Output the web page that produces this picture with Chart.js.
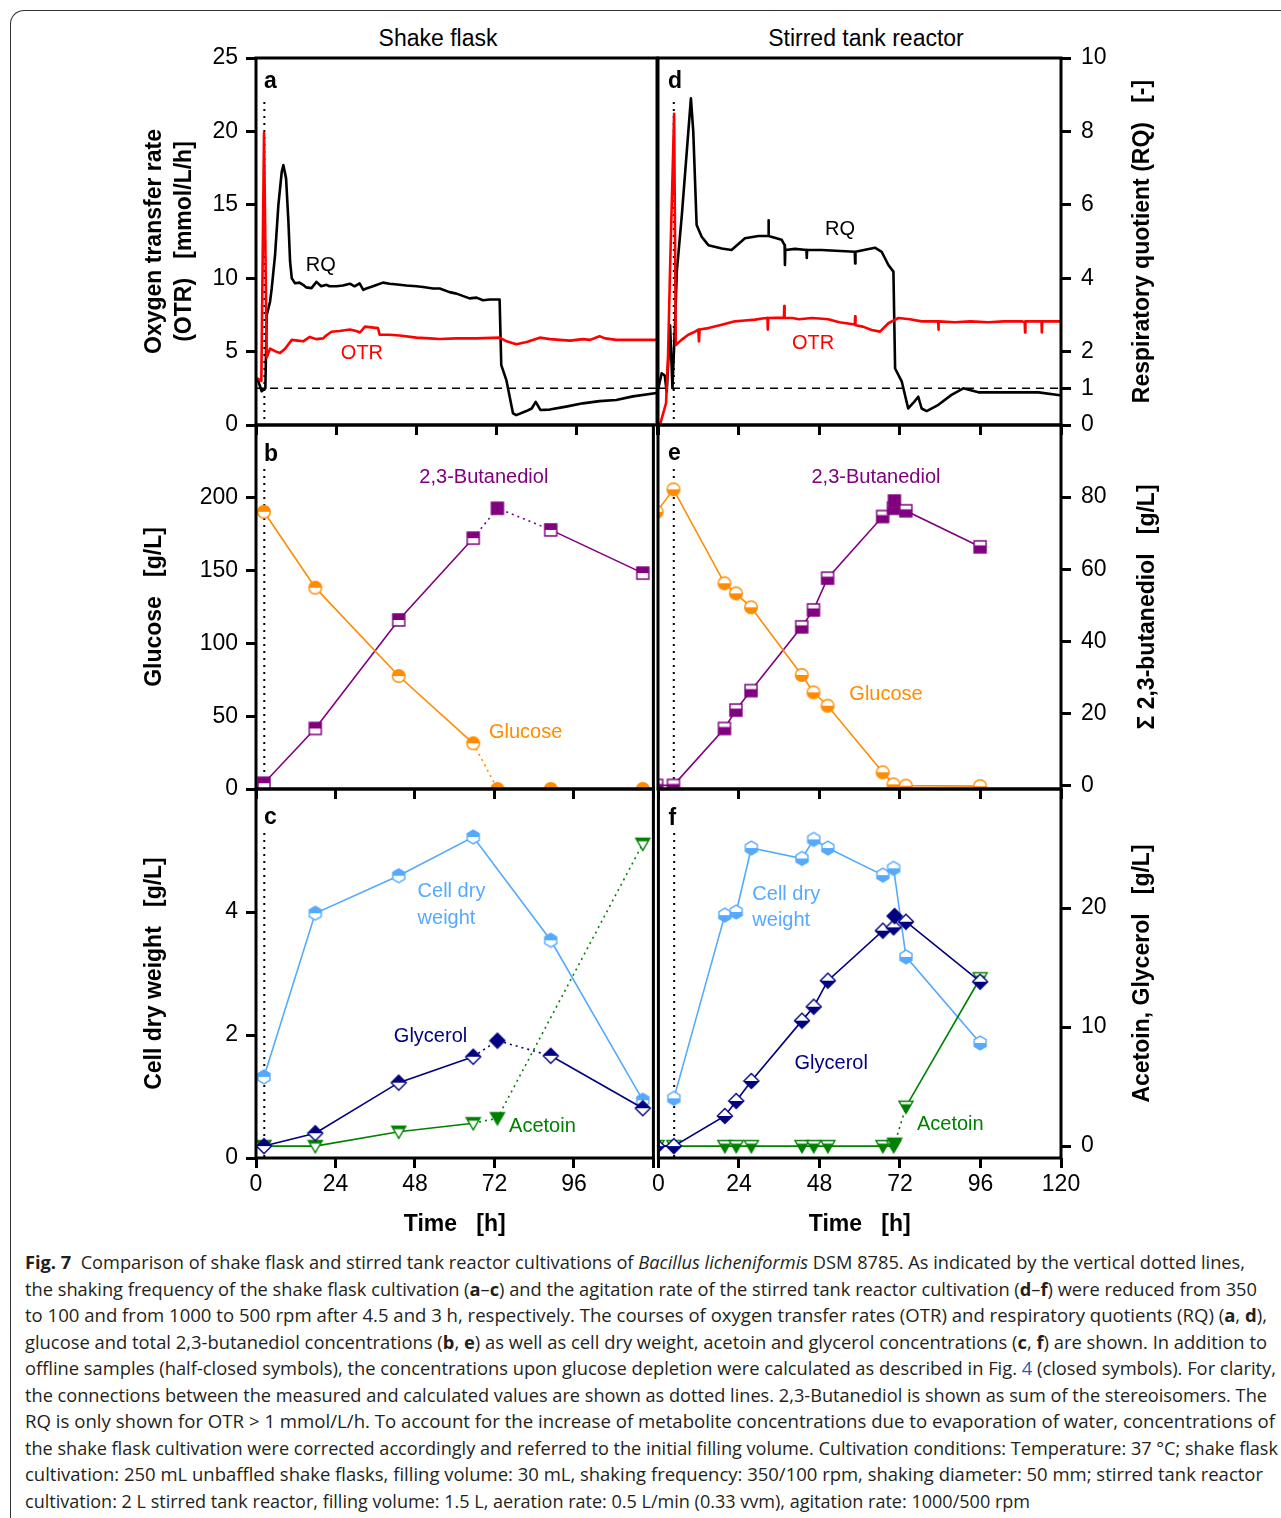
<!DOCTYPE html>
<html>
<head>
<meta charset="utf-8">
<script src="https://cdn.jsdelivr.net/npm/chart.js@4.4.1/dist/chart.umd.min.js"></script>
<style>
  body { margin: 0; background: #fff; width: 1281px; height: 1518px; overflow: hidden; position: relative;
         font-family: "Liberation Sans", Arial, sans-serif; }
  .frame { position: absolute; left: 10px; top: 10px; width: 1400px; height: 1700px;
           border-left: 1.5px solid #333; border-top: 1.5px solid #333; border-top-left-radius: 14px; }
  canvas { position: absolute; }
  .coltitle { position: absolute; top: 27px; font-size: 23px; line-height: 23px; white-space: nowrap; transform: translateX(-50%); }
  .cap { position: absolute; left: 25px; font-family: "Open Sans", "Noto Sans", sans-serif; font-size: 18px;
         line-height: 26px; color: #231f20; white-space: nowrap; transform-origin: 0 50%; }
  .lnk { color: #2a5db0; }
</style>
</head>
<body>
<div class="frame"></div>
<div class="coltitle" style="left:438px">Shake flask</div>
<div class="coltitle" style="left:866px">Stirred tank reactor</div>

<canvas id="pa" width="531" height="415" style="left:130px;top:34px"></canvas>
<canvas id="pb" width="531" height="412" style="left:130px;top:401px"></canvas>
<canvas id="pc" width="531" height="473" style="left:130px;top:765px"></canvas>
<canvas id="pd" width="524" height="415" style="left:647px;top:34px"></canvas>
<canvas id="pe" width="524" height="412" style="left:647px;top:401px"></canvas>
<canvas id="pf" width="524" height="473" style="left:647px;top:765px"></canvas>

<div class="cap" data-end="1245" style="top:1249px"><b>Fig. 7</b>&nbsp; Comparison of shake flask and stirred tank reactor cultivations of <i>Bacillus licheniformis</i> DSM 8785. As indicated by the vertical dotted lines,</div>
<div class="cap" data-end="1257" style="top:1276px">the shaking frequency of the shake flask cultivation (<b>a</b>–<b>c</b>) and the agitation rate of the stirred tank reactor cultivation (<b>d</b>–<b>f</b>) were reduced from 350</div>
<div class="cap" data-end="1267" style="top:1302px">to 100 and from 1000 to 500 rpm after 4.5 and 3 h, respectively. The courses of oxygen transfer rates (OTR) and respiratory quotients (RQ) (<b>a</b>, <b>d</b>),</div>
<div class="cap" data-end="1267" style="top:1329px">glucose and total 2,3-butanediol concentrations (<b>b</b>, <b>e</b>) as well as cell dry weight, acetoin and glycerol concentrations (<b>c</b>, <b>f</b>) are shown. In addition to</div>
<div class="cap" data-end="1276" style="top:1355px">offline samples (half-closed symbols), the concentrations upon glucose depletion were calculated as described in Fig. <span class="lnk">4</span> (closed symbols). For clarity,</div>
<div class="cap" data-end="1267" style="top:1382px">the connections between the measured and calculated values are shown as dotted lines. 2,3-Butanediol is shown as sum of the stereoisomers. The</div>
<div class="cap" data-end="1275" style="top:1408px">RQ is only shown for OTR &gt; 1 mmol/L/h. To account for the increase of metabolite concentrations due to evaporation of water, concentrations of</div>
<div class="cap" data-end="1278" style="top:1435px">the shake flask cultivation were corrected accordingly and referred to the initial filling volume. Cultivation conditions: Temperature: 37 °C; shake flask</div>
<div class="cap" data-end="1263" style="top:1461px">cultivation: 250 mL unbaffled shake flasks, filling volume: 30 mL, shaking frequency: 350/100 rpm, shaking diameter: 50 mm; stirred tank reactor</div>
<div class="cap" data-end="1030" style="top:1488px">cultivation: 2 L stirred tank reactor, filling volume: 1.5 L, aeration rate: 0.5 L/min (0.33 vvm), agitation rate: 1000/500 rpm</div>

<script>
// ---- online data, shake flask (a) ----
const otrSfTime = [0.3, 1.6, 2.4, 3.2, 4.2, 6.0, 7.2, 8.7, 10.7, 12.5, 14.1, 16.1, 18.0, 20.1, 21.0, 22.6, 25.0, 28.1, 30.0, 31.1, 32.6, 34.5, 36.5, 37.0, 40.0, 43.0, 48.0, 52.0, 55.0, 60.0, 66.0, 72.9, 75.0, 77.9, 81.0, 84.9, 88.0, 90.9, 94.0, 97.8, 100.0, 102.8, 104.5, 107.8, 112.0, 119.9];
const otrSfValue = [3.2, 3.0, 19.9, 4.6, 5.2, 5.0, 4.9, 5.2, 5.8, 5.75, 5.7, 6.0, 5.85, 5.9, 6.1, 6.35, 6.4, 6.5, 6.4, 6.3, 6.7, 6.65, 6.6, 6.15, 6.15, 6.1, 5.95, 5.9, 5.86, 5.9, 5.9, 5.95, 5.7, 5.5, 5.65, 5.95, 5.85, 5.8, 5.75, 5.85, 5.8, 6.05, 5.9, 5.8, 5.8, 5.8];
const rqSfTime = [0.4, 1.7, 2.8, 3.2, 4.2, 4.7, 5.7, 6.7, 7.7, 8.2, 9.0, 9.7, 10.2, 10.7, 11.7, 13.0, 14.1, 15.0, 16.6, 18.1, 19.5, 21.1, 22.0, 24.1, 26.0, 28.1, 29.5, 31.0, 32.1, 33.0, 35.0, 38.0, 40.0, 43.0, 45.0, 48.0, 50.0, 53.0, 55.0, 57.9, 60.0, 63.9, 66.0, 67.9, 70.0, 72.9, 73.4, 74.9, 76.9, 77.9, 80.9, 82.5, 83.7, 85.1, 87.9, 92.8, 97.8, 102.8, 107.8, 112.8, 119.9];
const rqSfValue = [1.27, 0.92, 1.0, 2.99, 3.36, 3.72, 4.63, 6.0, 6.9, 7.08, 6.72, 5.54, 4.45, 4.0, 3.86, 3.88, 3.82, 3.75, 3.73, 3.9, 3.78, 3.82, 3.78, 3.78, 3.8, 3.85, 3.78, 3.86, 3.68, 3.72, 3.78, 3.88, 3.85, 3.82, 3.8, 3.78, 3.76, 3.72, 3.72, 3.62, 3.58, 3.45, 3.47, 3.4, 3.42, 3.42, 1.63, 1.23, 0.32, 0.27, 0.38, 0.45, 0.63, 0.41, 0.42, 0.5, 0.59, 0.65, 0.68, 0.78, 0.87];

// ---- online data, stirred tank reactor (d) ----
const otrStrTime = [0.7, 2.4, 3.0, 3.6, 4.8, 5.3, 7.0, 9.0, 10.5, 12.0, 12.2, 12.4, 15.0, 19.0, 22.9, 25.0, 28.9, 31.0, 32.6, 32.7, 32.8, 35.0, 37.5, 37.6, 37.7, 40.0, 42.0, 45.8, 48.0, 50.7, 54.0, 58.6, 58.7, 58.8, 61.0, 63.6, 66.1, 68.6, 71.6, 75.0, 78.5, 82.0, 83.4, 83.5, 83.6, 88.4, 93.0, 98.4, 103.0, 108.3, 109.2, 109.3, 109.4, 114.2, 114.3, 114.4, 119.7];
const otrStrValue = [0.1, 1.5, 4.8, 10.7, 21.2, 5.45, 5.8, 6.15, 6.3, 6.5, 5.7, 6.5, 6.6, 6.83, 7.06, 7.1, 7.18, 7.25, 7.29, 6.5, 7.29, 7.3, 7.3, 8.1, 7.3, 7.29, 7.2, 7.29, 7.25, 7.2, 7.0, 6.85, 7.4, 6.8, 6.7, 6.47, 6.36, 6.93, 7.29, 7.2, 7.06, 7.06, 7.06, 6.5, 7.06, 7.0, 7.06, 7.0, 7.06, 7.06, 7.0, 6.3, 7.06, 7.06, 6.3, 7.06, 7.06];
const rqStrTime = [0.1, 1.1, 2.0, 2.6, 3.6, 4.3, 5.1, 5.6, 7.1, 9.8, 10.5, 11.5, 13.0, 15.0, 19.0, 21.9, 25.9, 29.9, 32.8, 32.9, 33.0, 36.8, 37.7, 37.8, 37.9, 40.8, 44.2, 44.3, 44.4, 48.7, 58.6, 58.7, 58.8, 64.6, 66.6, 68.6, 70.1, 70.6, 72.6, 74.5, 76.0, 77.5, 78.5, 80.0, 83.5, 87.4, 90.9, 95.4, 103.3, 113.3, 119.7];
const rqStrValue = [1.0, 1.41, 1.35, 0.9, 2.72, 1.0, 2.82, 4.18, 5.72, 8.9, 8.0, 5.45, 5.13, 4.9, 4.81, 4.77, 5.09, 5.15, 5.15, 5.58, 5.15, 5.05, 4.9, 4.36, 4.77, 4.8, 4.77, 4.55, 4.77, 4.77, 4.72, 4.4, 4.72, 4.83, 4.72, 4.36, 4.18, 1.54, 1.18, 0.45, 0.6, 0.77, 0.45, 0.38, 0.55, 0.82, 1.0, 0.89, 0.89, 0.89, 0.81];

// ---- offline samples, shake flask (b, c); index 4 = calculated at glucose depletion ----
const sfTime = [2.4, 17.9, 43.1, 65.6, 72.9, 89.0, 116.8];
const sfGlucose = [190.4, 138.3, 77.6, 31.4, 0, 0, 0];
const sfButanediol = [0.6, 15.8, 45.9, 68.6, 76.9, 70.9, 58.9];
const sfCellDry = [1.32, 3.98, 4.59, 5.22, null, 3.54, 0.94];
const sfGlycerol = [0, 1.08, 5.33, 7.51, 8.86, 7.59, 3.18];
const sfAcetoin = [0, 0, 1.21, 1.92, 2.34, null, 25.4];
const sfClosed = 4;

// ---- offline samples, stirred tank reactor (e, f); index 10 = calculated ----
const strTime = [-0.4, 4.6, 19.8, 23.2, 27.7, 42.8, 46.3, 50.5, 66.9, 70.1, 70.4, 73.8, 95.9];
const strGlucose = [190.4, 205.8, 141.3, 134.4, 124.8, 78.3, 66.4, 57.2, 11.5, 3.2, null, 2.3, 2.0];
const strButanediol = [0, 0, 15.8, 20.9, 26.3, 44.0, 48.7, 57.5, 74.6, 76.9, 78.9, 76.2, 66.2];
const strCellDry = [null, 0.97, 3.95, 4.0, 5.04, 4.87, 5.18, 5.04, 4.6, 4.71, null, 3.27, 1.87];
const strGlycerol = [0, 0, 2.53, 3.79, 5.47, 10.54, 11.71, 13.9, 18.1, 18.38, 19.33, 18.85, 13.81];
const strAcetoin = [0, 0, 0, 0, 0, 0, 0, 0, 0, 0, 0.2, 3.31, 14.1];
const strClosed = 10;

// change of shaking frequency / agitation rate, and RQ = 1 reference
const sfShiftTime = 2.5;
const strShiftTime = 4.7;
const rqReference = 1;

// axis ticks
const timeTicks = [0, 24, 48, 72, 96, 120];
const otrTicks = [0, 5, 10, 15, 20, 25];
const rqTicks = [0, 1, 2, 4, 6, 8, 10];
const glucoseTicks = [0, 50, 100, 150, 200];
const butanediolTicks = [0, 20, 40, 60, 80];
const cellDryTicks = [0, 2, 4];
const byproductTicks = [0, 10, 20];

const FONT = '"Liberation Sans", Arial, sans-serif';
Chart.defaults.font.family = FONT;
Chart.defaults.color = '#000';

const colOTR = '#ff0000', colRQ = '#000000', colGlucose = '#ff8c00', colBDO = '#800080',
      colCDW = '#55aaff', colGlycerol = '#000080', colAcetoin = '#008000';

// half-closed / closed symbols as small canvases
function makeMarker(shape, color, mode, split) {
  const s = 18, m = s / 2;
  const c = document.createElement('canvas');
  c.width = s; c.height = s;
  const g = c.getContext('2d');
  g.beginPath();
  if (shape === 'circle') g.arc(m, m, 6.3, 0, Math.PI * 2);
  else if (shape === 'square') g.rect(m - 6, m - 6, 12, 12);
  else if (shape === 'diamond') { g.moveTo(m, m - 7.5); g.lineTo(m + 7.5, m); g.lineTo(m, m + 7.5); g.lineTo(m - 7.5, m); g.closePath(); }
  else if (shape === 'hexagon') {
    for (let k = 0; k < 6; k++) {
      const a = Math.PI / 2 + k * Math.PI / 3;
      g.lineTo(m + 6.9 * Math.cos(a), m + 6.9 * Math.sin(a));
    }
    g.closePath();
  } else if (shape === 'triangle') { g.moveTo(m - 7, m - 5.5); g.lineTo(m + 7, m - 5.5); g.lineTo(m, m + 6.5); g.closePath(); }
  g.fillStyle = '#fff';
  g.fill();
  g.save();
  g.clip();
  g.fillStyle = color;
  const cut = m + (split || 0);
  if (mode === 'full') g.fillRect(0, 0, s, s);
  else if (mode === 'top') g.fillRect(0, 0, s, cut);
  else g.fillRect(0, cut, s, s);
  g.restore();
  g.strokeStyle = color;
  g.lineWidth = 1.4;
  g.stroke();
  return c;
}

function toPoints(times, values) {
  return times.map((t, i) => ({ x: t, y: values[i] }));
}

function curveSet(times, values, color, axis) {
  return {
    data: toPoints(times, values), yAxisID: axis, borderColor: color, borderWidth: 2.6,
    pointRadius: 0, tension: 0, borderJoinStyle: 'round', clip: 0
  };
}

function sampleSet(times, values, color, shape, half, split, axis, closedIdx, dotted) {
  const halfMarker = makeMarker(shape, color, half, split);
  const fullMarker = makeMarker(shape, color, 'full', 0);
  return {
    data: toPoints(times, values), yAxisID: axis, borderColor: color, borderWidth: 1.6,
    spanGaps: true, tension: 0, clip: 0, pointRadius: 6,
    pointStyle: times.map((t, i) => i === closedIdx ? fullMarker : halfMarker),
    segment: {
      // measured <-> calculated connections are dotted
      borderDash: ctx => {
        if (!dotted) return undefined;
        const j = ctx.p1DataIndex;
        let k = j - 1;
        while (k > 0 && values[k] == null) k--;
        return (k === closedIdx || j === closedIdx) ? [2, 4] : undefined;
      }
    }
  };
}

// frame, panel letter, in-plot labels, reference lines, right-side title
const panelDeco = {
  id: 'panelDeco',
  beforeDatasetsDraw(chart, args, o) {
    const { ctx, chartArea: a, scales } = chart;
    ctx.save();
    ctx.beginPath();
    ctx.rect(a.left, a.top, a.right - a.left, a.bottom - a.top);
    ctx.clip();
    ctx.strokeStyle = '#000';
    const vx = scales.x.getPixelForValue(o.shiftTime);
    ctx.lineWidth = 2;
    ctx.setLineDash([2, 5]);
    ctx.beginPath();
    ctx.moveTo(vx, a.top + 44);
    ctx.lineTo(vx, a.bottom);
    ctx.stroke();
    if (o.rqLine) {
      const hy = scales.y2.getPixelForValue(rqReference);
      ctx.lineWidth = 1.5;
      ctx.setLineDash([8, 6]);
      ctx.beginPath();
      ctx.moveTo(a.left, hy);
      ctx.lineTo(a.right, hy);
      ctx.stroke();
    }
    ctx.restore();
  },
  afterDatasetsDraw(chart, args, o) {
    const { ctx, chartArea: a, scales } = chart;
    ctx.save();
    ctx.lineWidth = 3;
    ctx.strokeStyle = '#000';
    ctx.setLineDash([]);
    ctx.strokeRect(a.left, a.top, a.right - a.left, a.bottom - a.top);

    ctx.fillStyle = '#000';
    ctx.font = 'bold 23px ' + FONT;
    ctx.textAlign = 'left';
    ctx.textBaseline = 'alphabetic';
    ctx.fillText(o.letter, a.left + o.letterDx, a.top + o.letterDy);

    ctx.font = '20px ' + FONT;
    ctx.textBaseline = 'middle';
    (o.notes || []).forEach(n => {
      ctx.fillStyle = n.color;
      ctx.textAlign = n.align || 'center';
      ctx.fillText(n.text, scales.x.getPixelForValue(n.x), scales.y.getPixelForValue(n.y));
    });

    if (o.sideTitle) {
      const s = scales.y2;
      ctx.translate(s.right - o.sideOffset, (a.top + a.bottom) / 2);
      ctx.rotate(-Math.PI / 2);
      ctx.font = 'bold 23px ' + FONT;
      ctx.fillStyle = '#000';
      ctx.textAlign = 'center';
      ctx.fillText(o.sideTitle, 0, 0);
    }
    ctx.restore();
  }
};

function tickGrid() {
  return { drawOnChartArea: false, drawTicks: true, tickLength: 10, tickWidth: 3, tickColor: '#000' };
}

function setTicks(list) {
  return scale => { scale.ticks = list.map(v => ({ value: v })); };
}

function makePanel(id, spec) {
  const leftCol = spec.col === 0;
  new Chart(document.getElementById(id), {
    type: 'line',
    data: { datasets: spec.datasets },
    options: {
      responsive: false,
      animation: false,
      events: [],
      layout: { padding: { top: 24, bottom: 0, left: leftCol ? 0 : 11, right: leftCol ? 4 : 0 } },
      plugins: {
        legend: { display: false },
        tooltip: { enabled: false },
        panelDeco: {
          letter: spec.letter, letterDx: leftCol ? 8 : 10, letterDy: spec.letterDy,
          shiftTime: leftCol ? sfShiftTime : strShiftTime, rqLine: !!spec.rqLine,
          notes: spec.notes, sideTitle: leftCol ? null : spec.rightTitle, sideOffset: spec.sideOffset
        }
      },
      scales: {
        x: {
          type: 'linear', position: 'bottom', min: 0, max: 120,
          border: { display: false },
          grid: tickGrid(),
          afterBuildTicks: setTicks(timeTicks),
          ticks: {
            display: !!spec.bottom, maxRotation: 0, autoSkip: false, padding: 5,
            font: { size: 23, lineHeight: 1 },
            callback: v => (leftCol && v === 120) ? '' : v
          },
          title: {
            display: !!spec.bottom, text: 'Time   [h]', padding: { top: 0, bottom: 0 },
            font: { size: 23, weight: 'bold', lineHeight: 1.2 }
          },
          afterFit: s => { s.height = spec.bottom ? 80 : 24; }
        },
        y: {
          type: 'linear', position: 'left', display: leftCol, min: spec.yMin, max: spec.yMax,
          border: { display: false },
          grid: tickGrid(),
          afterBuildTicks: setTicks(spec.yTicks),
          ticks: { padding: 8, font: { size: 23, lineHeight: 1 } },
          title: {
            display: true, text: spec.leftTitle, padding: { top: 10, bottom: 0 },
            font: { size: 23, weight: 'bold', lineHeight: 1.3 }
          },
          afterFit: s => { s.width = leftCol ? 126 : 0; }
        },
        y2: {
          type: 'linear', position: 'right', display: !leftCol, min: spec.y2Min, max: spec.y2Max,
          border: { display: false },
          grid: tickGrid(),
          afterBuildTicks: setTicks(spec.y2Ticks),
          ticks: { padding: 10, font: { size: 23, lineHeight: 1 } },
          afterFit: s => { s.width = leftCol ? 0 : 110; }
        }
      }
    },
    plugins: [panelDeco]
  });
}

const otrTitle = ['Oxygen transfer rate', '(OTR)   [mmol/L/h]'];

// (a) shake flask OTR / RQ
makePanel('pa', {
  col: 0, letter: 'a', letterDy: 30, rqLine: true,
  yMin: 0, yMax: 25, yTicks: otrTicks, y2Min: 0, y2Max: 10, y2Ticks: rqTicks, leftTitle: otrTitle,
  datasets: [curveSet(otrSfTime, otrSfValue, colOTR, 'y'), curveSet(rqSfTime, rqSfValue, colRQ, 'y2')],
  notes: [
    { text: 'RQ', x: 19.4, y: 10.9, color: '#000' },
    { text: 'OTR', x: 31.7, y: 4.84, color: colOTR }
  ]
});

// (d) stirred tank reactor OTR / RQ
makePanel('pd', {
  col: 1, letter: 'd', letterDy: 30, rqLine: true,
  yMin: 0, yMax: 25, yTicks: otrTicks, y2Min: 0, y2Max: 10, y2Ticks: rqTicks, leftTitle: otrTitle,
  rightTitle: 'Respiratory quotient (RQ)   [-]', sideOffset: 28,
  datasets: [curveSet(otrStrTime, otrStrValue, colOTR, 'y'), curveSet(rqStrTime, rqStrValue, colRQ, 'y2')],
  notes: [
    { text: 'RQ', x: 54.2, y: 13.3, color: '#000' },
    { text: 'OTR', x: 46.2, y: 5.52, color: colOTR }
  ]
});

// (b) shake flask glucose / butanediol
makePanel('pb', {
  col: 0, letter: 'b', letterDy: 36,
  yMin: 0, yMax: 250, yTicks: glucoseTicks, y2Min: -1, y2Max: 100, y2Ticks: butanediolTicks,
  leftTitle: 'Glucose   [g/L]',
  datasets: [
    sampleSet(sfTime, sfGlucose, colGlucose, 'circle', 'top', 0, 'y', sfClosed, true),
    sampleSet(sfTime, sfButanediol, colBDO, 'square', 'top', 0, 'y2', sfClosed, true)
  ],
  notes: [
    { text: '2,3-Butanediol', x: 68.8, y: 214, color: colBDO },
    { text: 'Glucose', x: 81.4, y: 39.1, color: colGlucose }
  ]
});

// (e) stirred tank reactor glucose / butanediol
makePanel('pe', {
  col: 1, letter: 'e', letterDy: 35,
  yMin: 0, yMax: 250, yTicks: glucoseTicks, y2Min: -1, y2Max: 100, y2Ticks: butanediolTicks,
  leftTitle: 'Glucose   [g/L]', rightTitle: 'Σ 2,3-butanediol   [g/L]', sideOffset: 23,
  datasets: [
    sampleSet(strTime, strGlucose, colGlucose, 'circle', 'bottom', 0, 'y', strClosed, false),
    sampleSet(strTime, strButanediol, colBDO, 'square', 'bottom', -1.5, 'y2', strClosed, false)
  ],
  notes: [
    { text: '2,3-Butanediol', x: 64.9, y: 214, color: colBDO },
    { text: 'Glucose', x: 67.9, y: 64.6, color: colGlucose }
  ]
});

// (c) shake flask cell dry weight / glycerol / acetoin
makePanel('pc', {
  col: 0, letter: 'c', letterDy: 35, bottom: true,
  yMin: 0, yMax: 6, yTicks: cellDryTicks, y2Min: -1, y2Max: 30, y2Ticks: byproductTicks,
  leftTitle: 'Cell dry weight   [g/L]',
  datasets: [
    sampleSet(sfTime, sfGlycerol, colGlycerol, 'diamond', 'top', 0, 'y2', sfClosed, true),
    sampleSet(sfTime, sfAcetoin, colAcetoin, 'triangle', 'top', -2.5, 'y2', sfClosed, true),
    sampleSet(sfTime, sfCellDry, colCDW, 'hexagon', 'top', 0, 'y', sfClosed, false)
  ],
  notes: [
    { text: 'Cell dry', x: 48.8, y: 4.33, color: colCDW, align: 'left' },
    { text: 'weight', x: 48.8, y: 3.90, color: colCDW, align: 'left' },
    { text: 'Glycerol', x: 52.7, y: 1.97, color: colGlycerol },
    { text: 'Acetoin', x: 86.5, y: 0.52, color: colAcetoin }
  ]
});

// (f) stirred tank reactor cell dry weight / glycerol / acetoin
makePanel('pf', {
  col: 1, letter: 'f', letterDy: 36, bottom: true,
  yMin: 0, yMax: 6, yTicks: cellDryTicks, y2Min: -1, y2Max: 30, y2Ticks: byproductTicks,
  leftTitle: 'Cell dry weight   [g/L]', rightTitle: 'Acetoin, Glycerol   [g/L]', sideOffset: 28,
  datasets: [
    sampleSet(strTime, strGlycerol, colGlycerol, 'diamond', 'bottom', 0, 'y2', strClosed, false),
    sampleSet(strTime, strAcetoin, colAcetoin, 'triangle', 'bottom', -2.5, 'y2', strClosed, true),
    sampleSet(strTime, strCellDry, colCDW, 'hexagon', 'bottom', 0, 'y', strClosed, false)
  ],
  notes: [
    { text: 'Cell dry', x: 28.0, y: 4.29, color: colCDW, align: 'left' },
    { text: 'weight', x: 28.0, y: 3.87, color: colCDW, align: 'left' },
    { text: 'Glycerol', x: 51.5, y: 1.53, color: colGlycerol },
    { text: 'Acetoin', x: 87.0, y: 0.54, color: colAcetoin }
  ]
});

// squeeze caption lines to the widths of the original layout
function fitCaption() {
  document.querySelectorAll('.cap').forEach(el => {
    el.style.transform = 'none';
    const w = el.getBoundingClientRect().width;
    const target = Number(el.dataset.end) - 25;
    el.style.transform = 'scaleX(' + (target / w) + ')';
  });
}
fitCaption();
if (document.fonts) document.fonts.ready.then(fitCaption);
</script>
</body>
</html>
